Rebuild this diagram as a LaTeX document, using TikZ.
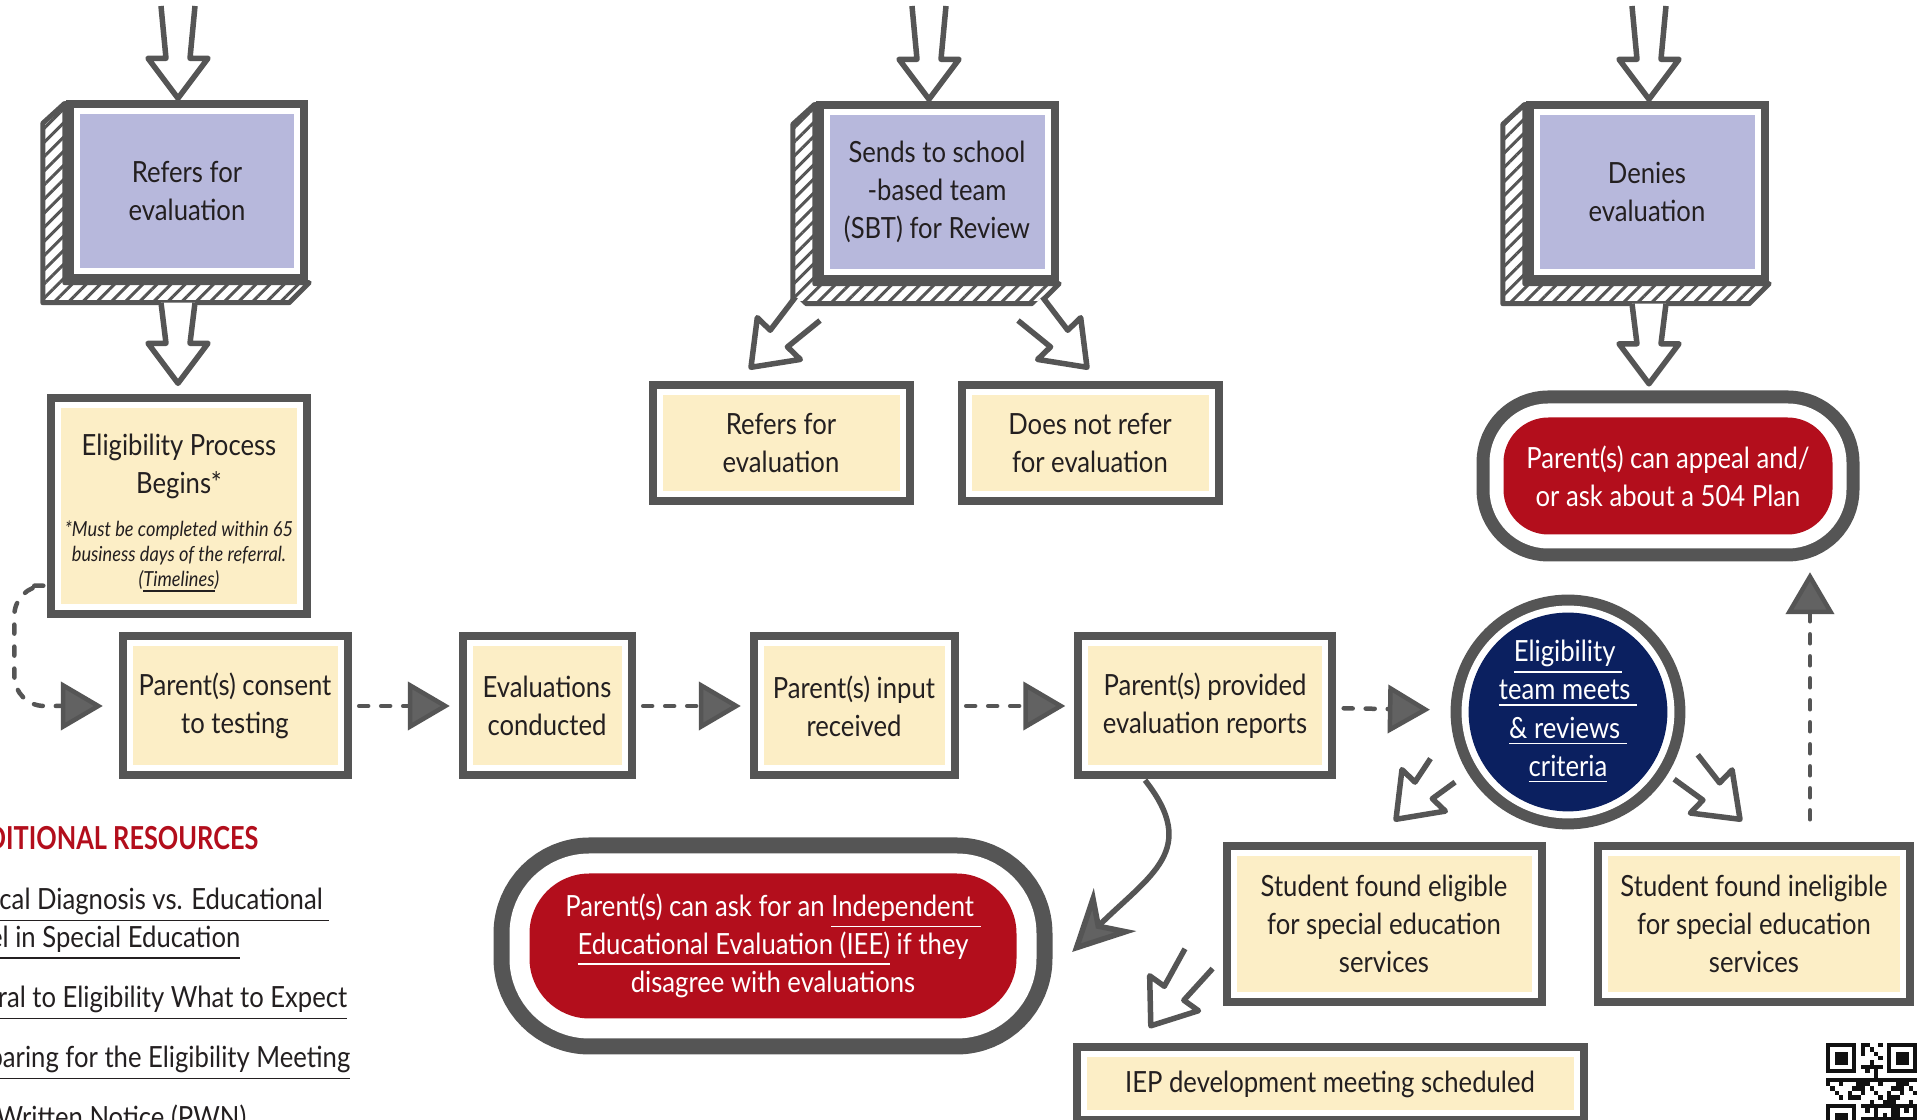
\documentclass[tikz,border=0pt]{standalone}
\usepackage{fontspec}
\setmainfont[FakeStretch=0.88]{Lato}
\newfontfamily\headfont[FakeStretch=0.8]{Lato}
\usetikzlibrary{calc}
\usetikzlibrary{arrows.meta}
\usetikzlibrary{patterns.meta}

\definecolor{framegray}{HTML}{555555}
\definecolor{inkgray}{HTML}{231F20}
\definecolor{boxyellow}{HTML}{FCEEC6}
\definecolor{boxpurple}{HTML}{B7B8DC}
\definecolor{boxred}{HTML}{B30E1C}
\definecolor{boxnavy}{HTML}{0B2060}
\definecolor{headgray}{HTML}{626262}
\definecolor{qrink}{HTML}{111111}

\newcommand{\boxfont}{\fontsize{8.3}{10.9}\selectfont}
\newcommand{\notefont}{\fontsize{5.9}{7.1}\selectfont\itshape}
% hollow block arrow from #1 to #2
\newcommand{\hollowarrow}[2]{%
  \coordinate (ha-s) at (#1);
  \coordinate (ha-e) at (#2);
  \coordinate (ha-n) at ($(ha-e)!4mm!(ha-s)$);
  \draw[bigarrow] ($(ha-s)!1.7mm!90:(ha-e)$) -- ($(ha-n)!1.2mm!90:(ha-e)$)
    -- ($(ha-n)!3mm!90:(ha-e)$) -- (ha-e) -- ($(ha-n)!3mm!-90:(ha-e)$)
    -- ($(ha-n)!1.2mm!-90:(ha-e)$) -- ($(ha-s)!1.7mm!-90:(ha-e)$);
}

\begin{document}
\begin{tikzpicture}[x=0.1mm, y=-0.1mm,
    txt/.style={font=\boxfont, text=inkgray, align=center, inner sep=0pt},
    ybox/.style={txt, fill=boxyellow,
      preaction={draw=framegray, line width=2.8mm},
      preaction={draw=white, line width=1.2mm}},
    pbox/.style={ybox, fill=boxpurple, minimum width=21.5mm, minimum height=15.4mm},
    rowbox/.style={ybox, minimum height=11.9mm},
    redbox/.style 2 args={txt, text=white, fill=boxred,
      preaction={draw=framegray, line width=#2},
      preaction={draw=white, line width=#1}},
    bigarrow/.style={draw=framegray, fill=white, line width=0.55mm, line join=round},
    hatchside/.style={draw=framegray, line width=0.5mm, line join=round,
      pattern={Lines[angle=45, distance=1mm, line width=0.3mm]}, pattern color=framegray},
    dashconn/.style={draw=framegray, line width=0.45mm, line cap=round,
      dash pattern=on 0.9mm off 1.3mm, shorten <=2.1mm, shorten >=2.2mm,
      -{Triangle[length=4.2mm, width=4.8mm, fill=headgray]}},
    curvearrow/.style={draw=framegray, line width=0.55mm,
      -{Stealth[length=6mm, width=6mm, inset=2mm, fill=headgray]}},
    resline/.style={font=\boxfont, text=inkgray, inner sep=0pt, anchor=base east}
  ]
  \path[use as bounding box, fill=white] (0,0) rectangle (1925,1120);
  \clip (0,0) rectangle (1925,1120);

  % referral outcomes
  \node[pbox] (pb1) at (187,191) {Refers for\\evaluation};
  \node[pbox] (pb2) at (937,192) {Sends to school\\-based team\\(SBT) for Review};
  \node[pbox] (pb3) at (1647,192) {Denies\\evaluation};
  \foreach \b in {pb1,pb2,pb3}
    \draw[hatchside] ([shift={(-14,-10)}]\b.north west) -- ++(-22,20)
      -- ([shift={(-36,34)}]\b.south west) -- ([shift={(-6,34)}]\b.south east)
      -- ([shift={(14,14)}]\b.south east) -- ([shift={(-14,14)}]\b.south west) -- cycle;

  \node[ybox, minimum width=23.7mm, minimum height=9.6mm] (refer2) at (781,443) {Refers for\\evaluation};
  \node[ybox, minimum width=23.7mm, minimum height=9.6mm] (noref) at (1090,443) {Does not refer\\for evaluation};
  \node[redbox={2.8mm}{5.4mm}, rounded corners=4.5mm, minimum width=32.9mm, minimum height=11.7mm] (appeal) at (1668,476)
    {Parent(s) can appeal and/\\or ask about a 504 Plan};

  \node[ybox, minimum width=23.6mm, minimum height=19.6mm] (elig) at (179,506) {};
  \node[txt, anchor=north] (eligtitle) at ([yshift=-2.6mm]elig.north) {Eligibility Process\\Begins*};
  \node[txt, font=\notefont, anchor=north] (elignote) at ([yshift=-2mm]eligtitle.south)
    {*Must be completed within 65\\business days of the referral.\\(\underline{Timelines})};

  % eligibility steps
  \node[rowbox, minimum width=20.5mm] (consent) at (235,706) {Parent(s) consent\\to testing};
  \node[rowbox, minimum width=14.9mm] (evals) at (547,706) {Evaluations\\conducted};
  \node[rowbox, minimum width=18.1mm] (input) at (854,706) {Parent(s) input\\received};
  \node[rowbox, minimum width=23.4mm] (provided) at (1205,706) {Parent(s) provided\\evaluation reports};
  \node[circle, txt, text=white, fill=boxnavy, minimum size=18.2mm,
    preaction={draw=framegray, line width=3.6mm}, preaction={draw=white, line width=1.4mm}] (circ) at (1568,712)
    {\underline{Eligibility\ }\\\underline{team meets\ }\\\underline{\& reviews\ }\\\underline{criteria}};

  \node[ybox, minimum width=29.5mm, minimum height=13.6mm] (elig2) at (1384,924)
    {Student found eligible\\for special education\\services};
  \node[ybox, minimum width=29.2mm, minimum height=13.6mm] (inelig) at (1754,924)
    {Student found ineligible\\for special education\\services};
  \node[ybox, minimum width=48.7mm, minimum height=5.3mm] (iep) at (1330,1084) {IEP development meeting scheduled};
  \node[redbox={4mm}{7.2mm}, rounded corners=6mm, minimum width=48.7mm, minimum height=14.5mm] (iee) at (773,946)
    {Parent(s) can ask for an \underline{Independent\ }\\\underline{Educational Evaluation (IEE)} if they\\disagree with evaluations};

  % resources
  \node[resline, font=\fontsize{9}{11}\selectfont\headfont\bfseries, text=boxred] (reshead) at (259,850) {ADDITIONAL RESOURCES};
  \node[resline] (res1) at (330,910) {\underline{Medical Diagnosis vs. Educational\ }};
  \node[resline] (res2) at (241,948) {\underline{Label in Special Education}};
  \node[resline] (res3) at (348,1008) {\underline{Referral to Eligibility What to Expect}};
  \node[resline] (res4) at (351,1068) {\underline{Preparing for the Eligibility Meeting}};
  \node[resline] (res5) at (247,1128) {\underline{Prior Written Notice (PWN)}};

  % block arrows
  \coordinate (in1) at (178,6);
  \coordinate (in2) at (929,6);
  \coordinate (in3) at (1649,6);
  \hollowarrow{in1}{$(in1 |- pb1.north)+(0,-15)$}
  \hollowarrow{in2}{$(in2 |- pb2.north)+(0,-15)$}
  \hollowarrow{in3}{$(in3 |- pb3.north)+(0,-15)$}
  \hollowarrow{$(in1 |- pb1.south)+(0,34)$}{$(in1 |- elig.north)+(0,-24)$}
  \hollowarrow{$(in3 |- pb3.south)+(0,34)$}{$(in3 |- appeal.north)+(0,-33)$}
  \hollowarrow{$(pb2.south west)+(-21,39)$}{$(refer2.north)+(-30,-27)$}
  \hollowarrow{$(pb2.south east)+(-15,39)$}{$(noref.north)+(-3,-27)$}
  \hollowarrow{$(circ.center)!1.38!(circ.205)$}{$(elig2.north)+(12,-36)$}
  \hollowarrow{$(circ.center)!1.3!(circ.-25)$}{$(inelig.north)+(-14,-36)$}
  \hollowarrow{$(elig2.south west)+(-37,-34)$}{$(iep.north west)+(65,-31)$}

  % dashed flow
  \draw[dashconn, rounded corners=3mm, shorten <=0pt, shorten >=2.9mm]
    ([shift={(-26,-19)}]elig.south west) -- ++(-20,0) |- (consent.west);
  \foreach \a/\b in {consent/evals, evals/input, input/provided}
    \draw[dashconn] (\a) -- (\b);
  \draw[dashconn, shorten >=3.8mm] (provided) -- (circ);
  \coordinate (upx) at (1810,0);
  \draw[dashconn, shorten <=3.6mm, shorten >=3.7mm] (inelig.north -| upx) -- (appeal.south -| upx);
  \draw[curvearrow] ([shift={(-60,14)}]provided.south) .. controls (1200,850) and (1150,875) .. ([shift={(55,6)}]iee.east);

  % qr code
  \begin{scope}[shift={(1826,1043)}, x=0.435mm, y=-0.435mm]
    \foreach \i in {0,...,20}{
      \foreach \j in {0,...,20}{
        \pgfmathtruncatemacro{\qron}{mod(\i*\i*3+\j*\j*5+\i*\j*7+\i+2*\j,9)<4}
        \ifnum\qron=1 \fill[qrink] (\i,\j) rectangle ++(1,1); \fi
      }
    }
    \foreach \cx/\cy/\wx/\wy in {0/0/0/0, 14/0/13/0, 0/14/0/13}{
      \fill[white] (\wx,\wy) rectangle ++(8,8);
      \fill[qrink] (\cx,\cy) rectangle ++(7,7);
      \fill[white] (\cx+1,\cy+1) rectangle ++(5,5);
      \fill[qrink] (\cx+2,\cy+2) rectangle ++(3,3);
    }
  \end{scope}
\end{tikzpicture}
\end{document}
